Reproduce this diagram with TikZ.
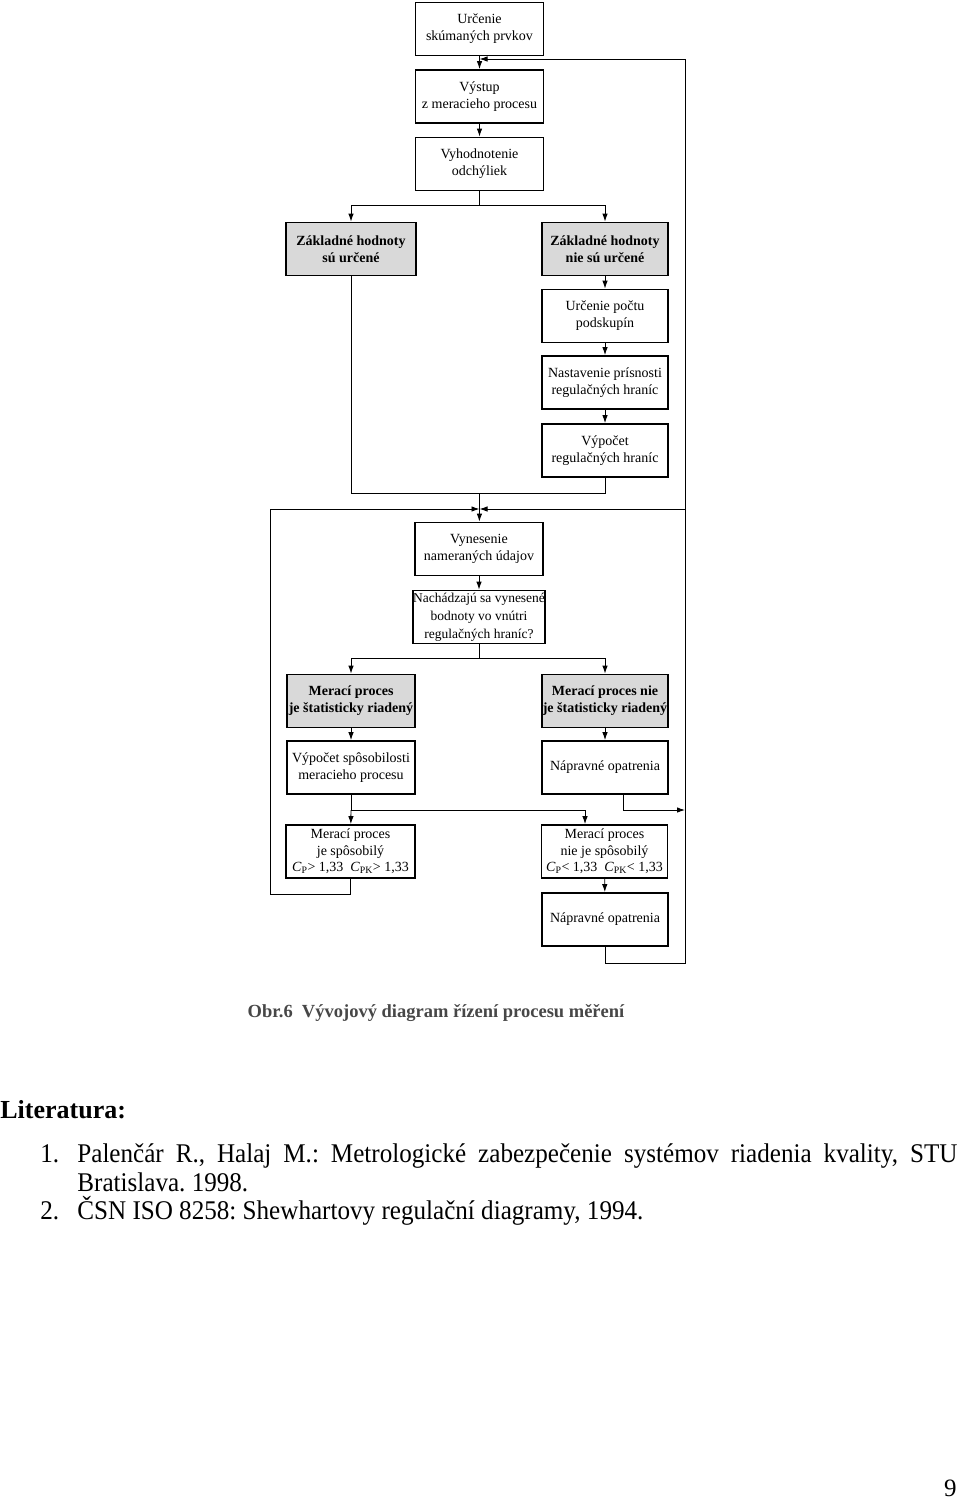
\documentclass[tikz,border=0pt]{standalone}
\usepackage{fontspec}
\setmainfont{Liberation Serif}
\newfontfamily\litfont[FakeStretch=0.93]{Liberation Serif}
\usetikzlibrary{arrows.meta}
\frenchspacing

\begin{document}
\begin{tikzpicture}[x=1pt, y=-1pt, thick]
\tikzstyle{box}=[draw, line width=1.8pt, minimum height=53pt, inner sep=0pt, align=center, font=\fontsize{14}{17}\selectfont]
\tikzstyle{shaded}=[box, fill=black!15, font=\fontsize{14}{17}\selectfont\bfseries]
\tikzstyle{wire}=[line width=0.9pt]
\tikzstyle{flow}=[wire, -{Latex[length=8pt,width=5.5pt]}]
\tikzstyle{lit}=[anchor=base west, inner sep=0pt, font=\litfont\fontsize{27}{30}\selectfont]
\useasboundingbox (0,0) rectangle (960,1499);
  % middle column
  \foreach \place/\name/\txt in {{(479.5,29)/urc/{Určenie\\skúmaných prvkov}},
                                 {(479.5,96.5)/vys/{Výstup\\z meracieho procesu}},
                                 {(479.5,164)/vyh/{Vyhodnotenie\\odchýliek}},
                                 {(479,549)/vyn/{Vynesenie\\nameraných údajov}}}
    \node[box, minimum width=128pt] (\name) at \place {\txt};
  \node[box, minimum width=128pt, font=\fontsize{13.5}{18}\selectfont] (nach) at (479,617)
    {Nachádzajú sa vynesené\\bodnoty vo vnútri\\regulačných hraníc?};
  % right column
  \foreach \place/\name/\txt in {{(605,316)/pod/{Určenie počtu\\podskupín}},
                                 {(605,382.5)/prs/{Nastavenie prísnosti\\regulačných hraníc}},
                                 {(605,450.5)/vpc/{Výpočet\\regulačných hraníc}},
                                 {(605,767.5)/nap1/{Nápravné opatrenia}},
                                 {(605,919.5)/nap2/{Nápravné opatrenia}}}
    \node[box, minimum width=126pt] (\name) at \place {\txt};
  \node[shaded, minimum width=126pt] (zn) at (605,249) {Základné hodnoty\\nie sú určené};
  \node[shaded, minimum width=126pt] (nriad) at (605,701) {Merací proces nie\\je štatisticky riadený};
  \node[box, minimum width=126pt, font=\fontsize{14}{16.5}\selectfont] (snie) at (604.5,851.5)
    {Merací proces\\nie je spôsobilý\\\textit{C}\textsubscript{P}< 1,33\enspace \textit{C}\textsubscript{PK}< 1,33};
  % left column
  \node[shaded, minimum width=130pt] (zano) at (351,249) {Základné hodnoty\\sú určené};
  \node[shaded, minimum width=128pt] (riad) at (351,701) {Merací proces\\je štatisticky riadený};
  \node[box, minimum width=128pt] (spv) at (351,767.5) {Výpočet spôsobilosti\\meracieho procesu};
  \node[box, minimum width=129pt, font=\fontsize{14}{16.5}\selectfont] (sano) at (350.5,851.5)
    {Merací proces\\je spôsobilý\\\textit{C}\textsubscript{P}> 1,33\enspace \textit{C}\textsubscript{PK}> 1,33};

  % straight arrows
  \foreach \source/\dest in {urc/vys,vys/vyh,zn/pod,pod/prs,prs/vpc,vyn/nach,riad/spv,nriad/nap1,snie/nap2}
      \path (\source) edge[flow] (\dest);

  % branch points
  \coordinate (b1) at (479.5,205);
  \coordinate (j1) at (479.5,493);
  \coordinate (j2) at (479.5,509);
  \coordinate (b2) at (479,658);
  \coordinate (s1) at (351,810);
  \coordinate (s2) at (585,810);
  \coordinate (n1) at (623,810);
  \coordinate (lb) at (270,894);
  \coordinate (lt) at (270,509);
  \coordinate (rb) at (685,963);
  \coordinate (rm) at (685,509);
  \coordinate (rt) at (685,59);

  \draw[wire] (vyh) -- (b1);
  \draw[wire] (zano |- b1) -- (zn |- b1);
  \draw[flow] (zano |- b1) -- (zano);
  \draw[flow] (zn |- b1) -- (zn);

  \draw[wire] (zano) -- (zano |- j1) -- (vpc |- j1) -- (vpc);
  \draw[wire] (j1) -- (j2);
  \draw[flow] (j2) -- (vyn);

  \draw[wire] (nach) -- (b2);
  \draw[wire] (riad |- b2) -- (nriad |- b2);
  \draw[flow] (riad |- b2) -- (riad);
  \draw[flow] (nriad |- b2) -- (nriad);

  \draw[wire] (spv) -- (s1) -- (s2);
  \draw[flow] (s1) -- (sano);
  \draw[flow] (s2) -- (s2 |- snie.north);
  \draw[flow] (nap1.south -| n1) -- (n1) -- (rb |- n1);

  % feedback loops
  \draw[flow] (sano) -- (sano |- lb) -- (lb) -- (lt) -- (j2);
  \draw[wire] (nap2) -- (nap2 |- rb) -- (rb) -- (rt);
  \draw[flow] (rt) -- (urc |- rt);
  \draw[flow] (rm) -- (j2);

  % caption and text
  \node[font=\fontsize{18.5}{22}\selectfont\bfseries, text=black!72] (cap) at (436,1013)
    {Obr.6\enspace Vývojový diagram řízení procesu měření};
  \node[anchor=base west, inner sep=0pt, font=\fontsize{26}{30}\selectfont\bfseries] (head) at (0,1118) {Literatura:};
  \node[lit] (n1a) at (40,1162) {1.};
  \node[lit] (l1) at (77,1162)
    {\makebox[880pt][s]{Palenčár R., Halaj M.: Metrologické zabezpečenie systémov riadenia kvality, STU}};
  \node[lit] (l2) at (77,1191) {Bratislava. 1998.};
  \node[lit] (n2a) at (40,1219) {2.};
  \node[lit] (l3) at (77,1219) {ČSN ISO 8258: Shewhartovy regulační diagramy, 1994.};
  \node[anchor=base east, inner sep=0pt, font=\fontsize{25}{30}\selectfont] (page) at (957,1496) {9};
\end{tikzpicture}
\end{document}
